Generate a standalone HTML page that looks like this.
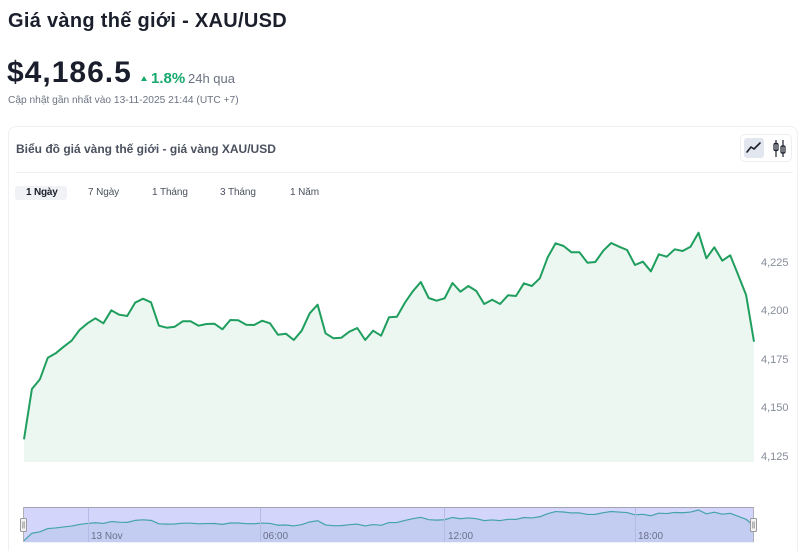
<!DOCTYPE html>
<html><head><meta charset="utf-8">
<style>
*{margin:0;padding:0;box-sizing:border-box}
html,body{width:800px;height:551px;overflow:hidden;background:#fff}
body{position:relative;font-family:"Liberation Sans","Noto Sans CJK SC",sans-serif;color:#1b1f2b}
.a{position:absolute;white-space:nowrap;line-height:1}
</style></head><body>
<div class="a" style="left:8px;top:10.5px;font-size:20px;font-weight:bold;letter-spacing:0.3px;color:#1b1f2b">Giá vàng thế giới - XAU/USD</div>
<div class="a" style="left:7px;top:58px;font-size:30px;font-weight:bold;letter-spacing:1px;color:#1a1e2c">$4,186.5</div>
<div class="a" style="left:141px;top:76px;width:0;height:0;border-left:3.5px solid transparent;border-right:3.5px solid transparent;border-bottom:5px solid #17a86b"></div>
<div class="a" style="left:151px;top:70.5px;font-size:15px;font-weight:bold;color:#17a86b">1.8%</div>
<div class="a" style="left:188px;top:72.3px;font-size:13px;color:#6b7280">24h qua</div>
<div class="a" style="left:8px;top:95.5px;font-size:10.2px;color:#6b7280">Cập nhật gần nhất vào 13-11-2025 21:44 (UTC +7)</div>

<div class="a" style="left:8px;top:126px;width:790px;height:440px;border:1px solid #eef0f3;border-radius:8px"></div>
<div class="a" style="left:16px;top:143px;font-size:12px;font-weight:bold;color:#4a505e">Biểu đồ giá vàng thế giới - giá vàng XAU/USD</div>
<div class="a" style="left:740px;top:134px;width:52px;height:28px;border:1px solid #eceef2;border-radius:5px"></div>
<div class="a" style="left:744px;top:138px;width:20px;height:20px;background:#e2e6ef;border-radius:3px"></div>
<div class="a" style="left:16px;top:172px;width:777px;height:1px;background:#eef0f3"></div>

<div class="a" style="left:15px;top:186px;width:52px;height:14px;background:#f1f2f5;border-radius:3px"></div>
<div class="a" style="left:26px;top:188px;font-size:10px;font-weight:bold;color:#1b1f2b;letter-spacing:-0.2px">1 Ngày</div>
<div class="a" style="left:88px;top:188px;font-size:10px;color:#4a505e;letter-spacing:-0.1px">7 Ngày</div>
<div class="a" style="left:152px;top:188px;font-size:10px;color:#4a505e;letter-spacing:-0.1px">1 Tháng</div>
<div class="a" style="left:220px;top:188px;font-size:10px;color:#4a505e;letter-spacing:-0.1px">3 Tháng</div>
<div class="a" style="left:290px;top:188px;font-size:10px;color:#4a505e;letter-spacing:-0.1px">1 Năm</div>

<svg class="a" style="left:0;top:0" width="800" height="551" viewBox="0 0 800 551">
<polygon fill="#ecf7f1" points="24,439.3 31.9,389 39.9,379.3 47.8,357.7 55.7,353.3 63.7,346.7 71.6,340.7 79.5,330 87.5,323.3 95.4,318.3 103.4,323.3 111.3,310.3 119.2,314.7 127.2,316 135.1,302.7 143,298.7 151,302.3 158.9,325.7 166.8,327.7 174.8,326.7 182.7,321.3 190.6,321.3 198.6,325.7 206.5,324 214.4,323.7 222.4,329.3 230.3,320 238.2,320.3 246.2,324.7 254.1,325 262.1,320.7 270,323.3 277.9,334.7 285.9,333.7 293.8,340 301.7,330.7 309.7,313.3 317.6,304.7 325.5,333.3 333.5,338.3 341.4,337.7 349.3,331.7 357.3,328 365.2,340 373.1,330.7 381.1,335.7 389,317.3 396.9,316.7 404.9,302.7 412.8,291.3 420.8,282 428.7,298 436.6,300.7 444.6,298.3 452.5,283 460.4,291.7 468.4,286 476.3,291 484.2,304 492.2,299.7 500.1,304 508,295.3 516,296 523.9,283.3 531.8,286 539.8,278.3 547.7,257.3 555.6,243.3 563.6,246 571.5,252.3 579.5,252.3 587.4,262.7 595.3,262 603.3,250.7 611.2,243 619.1,246.7 627.1,250 635,265 642.9,261.7 650.9,271.3 658.8,254.3 666.7,256.7 674.7,249.3 682.6,251 690.5,246.7 698.5,232.7 706.4,258.3 714.3,247.3 722.3,260.7 730.2,255.3 738.2,275 746.1,295 754,341.7 754,462 24,462"/>
<polyline fill="none" stroke="#1f9e5e" stroke-width="2" stroke-linejoin="round" points="24,439.3 31.9,389 39.9,379.3 47.8,357.7 55.7,353.3 63.7,346.7 71.6,340.7 79.5,330 87.5,323.3 95.4,318.3 103.4,323.3 111.3,310.3 119.2,314.7 127.2,316 135.1,302.7 143,298.7 151,302.3 158.9,325.7 166.8,327.7 174.8,326.7 182.7,321.3 190.6,321.3 198.6,325.7 206.5,324 214.4,323.7 222.4,329.3 230.3,320 238.2,320.3 246.2,324.7 254.1,325 262.1,320.7 270,323.3 277.9,334.7 285.9,333.7 293.8,340 301.7,330.7 309.7,313.3 317.6,304.7 325.5,333.3 333.5,338.3 341.4,337.7 349.3,331.7 357.3,328 365.2,340 373.1,330.7 381.1,335.7 389,317.3 396.9,316.7 404.9,302.7 412.8,291.3 420.8,282 428.7,298 436.6,300.7 444.6,298.3 452.5,283 460.4,291.7 468.4,286 476.3,291 484.2,304 492.2,299.7 500.1,304 508,295.3 516,296 523.9,283.3 531.8,286 539.8,278.3 547.7,257.3 555.6,243.3 563.6,246 571.5,252.3 579.5,252.3 587.4,262.7 595.3,262 603.3,250.7 611.2,243 619.1,246.7 627.1,250 635,265 642.9,261.7 650.9,271.3 658.8,254.3 666.7,256.7 674.7,249.3 682.6,251 690.5,246.7 698.5,232.7 706.4,258.3 714.3,247.3 722.3,260.7 730.2,255.3 738.2,275 746.1,295 754,341.7"/>

<g font-family="Liberation Sans, sans-serif" font-size="11" fill="#858b99">
<text x="761" y="266">4,225</text>
<text x="761" y="314">4,200</text>
<text x="761" y="363">4,175</text>
<text x="761" y="411">4,150</text>
<text x="761" y="460">4,125</text>
</g>

<!-- navigator -->
<rect x="23" y="507" width="731" height="35" fill="#d3d6fa"/>
<g transform="matrix(1 0 0 0.1486 0 475.42)">
<polygon fill="#c3cdf1" points="24,439.3 31.9,389 39.9,379.3 47.8,357.7 55.7,353.3 63.7,346.7 71.6,340.7 79.5,330 87.5,323.3 95.4,318.3 103.4,323.3 111.3,310.3 119.2,314.7 127.2,316 135.1,302.7 143,298.7 151,302.3 158.9,325.7 166.8,327.7 174.8,326.7 182.7,321.3 190.6,321.3 198.6,325.7 206.5,324 214.4,323.7 222.4,329.3 230.3,320 238.2,320.3 246.2,324.7 254.1,325 262.1,320.7 270,323.3 277.9,334.7 285.9,333.7 293.8,340 301.7,330.7 309.7,313.3 317.6,304.7 325.5,333.3 333.5,338.3 341.4,337.7 349.3,331.7 357.3,328 365.2,340 373.1,330.7 381.1,335.7 389,317.3 396.9,316.7 404.9,302.7 412.8,291.3 420.8,282 428.7,298 436.6,300.7 444.6,298.3 452.5,283 460.4,291.7 468.4,286 476.3,291 484.2,304 492.2,299.7 500.1,304 508,295.3 516,296 523.9,283.3 531.8,286 539.8,278.3 547.7,257.3 555.6,243.3 563.6,246 571.5,252.3 579.5,252.3 587.4,262.7 595.3,262 603.3,250.7 611.2,243 619.1,246.7 627.1,250 635,265 642.9,261.7 650.9,271.3 658.8,254.3 666.7,256.7 674.7,249.3 682.6,251 690.5,246.7 698.5,232.7 706.4,258.3 714.3,247.3 722.3,260.7 730.2,255.3 738.2,275 746.1,295 754,341.7 754,449.5 24,449.5"/>
<polyline fill="none" stroke="#45a2ac" stroke-width="1.2" vector-effect="non-scaling-stroke" stroke-linejoin="round" points="24,439.3 31.9,389 39.9,379.3 47.8,357.7 55.7,353.3 63.7,346.7 71.6,340.7 79.5,330 87.5,323.3 95.4,318.3 103.4,323.3 111.3,310.3 119.2,314.7 127.2,316 135.1,302.7 143,298.7 151,302.3 158.9,325.7 166.8,327.7 174.8,326.7 182.7,321.3 190.6,321.3 198.6,325.7 206.5,324 214.4,323.7 222.4,329.3 230.3,320 238.2,320.3 246.2,324.7 254.1,325 262.1,320.7 270,323.3 277.9,334.7 285.9,333.7 293.8,340 301.7,330.7 309.7,313.3 317.6,304.7 325.5,333.3 333.5,338.3 341.4,337.7 349.3,331.7 357.3,328 365.2,340 373.1,330.7 381.1,335.7 389,317.3 396.9,316.7 404.9,302.7 412.8,291.3 420.8,282 428.7,298 436.6,300.7 444.6,298.3 452.5,283 460.4,291.7 468.4,286 476.3,291 484.2,304 492.2,299.7 500.1,304 508,295.3 516,296 523.9,283.3 531.8,286 539.8,278.3 547.7,257.3 555.6,243.3 563.6,246 571.5,252.3 579.5,252.3 587.4,262.7 595.3,262 603.3,250.7 611.2,243 619.1,246.7 627.1,250 635,265 642.9,261.7 650.9,271.3 658.8,254.3 666.7,256.7 674.7,249.3 682.6,251 690.5,246.7 698.5,232.7 706.4,258.3 714.3,247.3 722.3,260.7 730.2,255.3 738.2,275 746.1,295 754,341.7"/>
</g>
<g stroke="#b6bbe6" stroke-width="1">
<line x1="88.5" y1="507" x2="88.5" y2="542"/>
<line x1="260.5" y1="507" x2="260.5" y2="542"/>
<line x1="444.5" y1="507" x2="444.5" y2="542"/>
<line x1="635.5" y1="507" x2="635.5" y2="542"/>
</g>
<g font-family="Liberation Sans, sans-serif" font-size="10" fill="#6a6f8c">
<text x="91" y="539">13 Nov</text>
<text x="263" y="539">06:00</text>
<text x="448" y="539">12:00</text>
<text x="638" y="539">18:00</text>
</g>
<line x1="23" y1="507.5" x2="754" y2="507.5" stroke="#a3a3ad" stroke-width="1"/>
<line x1="23.5" y1="507" x2="23.5" y2="542" stroke="#b0b0b8" stroke-width="1"/>
<line x1="753.5" y1="507" x2="753.5" y2="542" stroke="#b0b0b8" stroke-width="1"/>
<rect x="20.5" y="518.5" width="6" height="13" rx="1" fill="#f4f4f4" stroke="#9a9a9a"/>
<line x1="22.8" y1="521.5" x2="22.8" y2="528.5" stroke="#888" stroke-width="0.8"/>
<line x1="24.2" y1="521.5" x2="24.2" y2="528.5" stroke="#888" stroke-width="0.8"/>
<rect x="750.5" y="518.5" width="6" height="13" rx="1" fill="#f4f4f4" stroke="#9a9a9a"/>
<line x1="752.8" y1="521.5" x2="752.8" y2="528.5" stroke="#888" stroke-width="0.8"/>
<line x1="754.2" y1="521.5" x2="754.2" y2="528.5" stroke="#888" stroke-width="0.8"/>

<!-- toggle icons -->
<polyline points="747,152 751,147 754,149 760,143" fill="none" stroke="#1b1f2b" stroke-width="1.6" stroke-linejoin="round" stroke-linecap="round"/>
<g stroke="#1b1f2b" stroke-width="1.2" fill="none">
<line x1="776" y1="140" x2="776" y2="157"/>
<rect x="774" y="143.5" width="4" height="7" rx="1.2"/>
<line x1="783" y1="140" x2="783" y2="157"/>
<rect x="781" y="146" width="4" height="7" rx="1.2"/>
</g>
</svg>
</body></html>
